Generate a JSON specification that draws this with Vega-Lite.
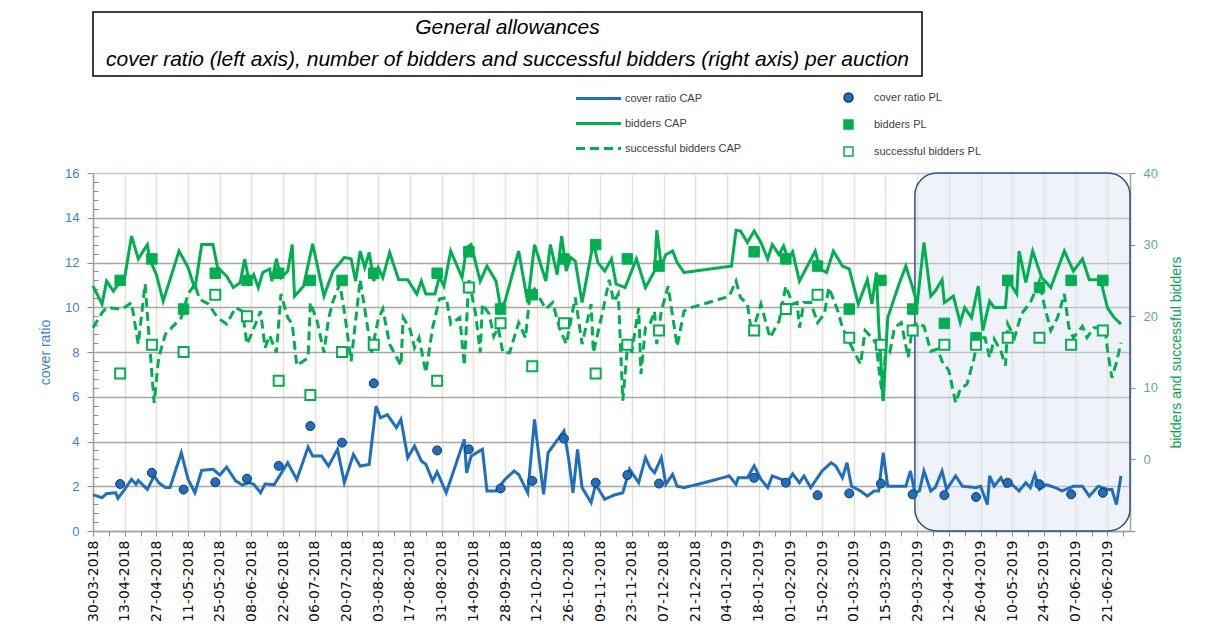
{
"$schema": "https://vega.github.io/schema/vega-lite/v6.json",
"background": "white",
"padding": {"left": 38, "top": 11, "right": 5, "bottom": 5},
"config": {"view": {"stroke": null}, "font": "Liberation Sans", "axis": {"titleFontWeight": "normal"}},
"datasets": {
"cr": [
{"d":"2018-03-30","v":1.62},{"d":"2018-04-03","v":1.49},{"d":"2018-04-05","v":1.67},{"d":"2018-04-09","v":1.71},{"d":"2018-04-10","v":1.46},{"d":"2018-04-13","v":1.86},{"d":"2018-04-16","v":2.31},{"d":"2018-04-18","v":2.09},{"d":"2018-04-19","v":2.26},{"d":"2018-04-23","v":1.86},{"d":"2018-04-26","v":2.46},{"d":"2018-04-28","v":2.16},{"d":"2018-05-01","v":1.94},{"d":"2018-05-03","v":1.94},{"d":"2018-05-08","v":3.5},{"d":"2018-05-11","v":2.31},{"d":"2018-05-14","v":1.71},{"d":"2018-05-17","v":2.71},{"d":"2018-05-22","v":2.76},{"d":"2018-05-25","v":2.5},{"d":"2018-05-28","v":2.86},{"d":"2018-06-01","v":2.24},{"d":"2018-06-04","v":2.06},{"d":"2018-06-07","v":2.16},{"d":"2018-06-09","v":2.09},{"d":"2018-06-12","v":1.71},{"d":"2018-06-14","v":2.1},{"d":"2018-06-18","v":2.07},{"d":"2018-06-24","v":3.05},{"d":"2018-06-28","v":2.3},{"d":"2018-07-03","v":3.75},{"d":"2018-07-05","v":3.35},{"d":"2018-07-09","v":3.35},{"d":"2018-07-12","v":2.9},{"d":"2018-07-16","v":3.65},{"d":"2018-07-19","v":2.16},{"d":"2018-07-23","v":3.42},{"d":"2018-07-26","v":2.9},{"d":"2018-07-30","v":2.98},{"d":"2018-08-02","v":5.58},{"d":"2018-08-04","v":5.06},{"d":"2018-08-07","v":5.2},{"d":"2018-08-11","v":4.62},{"d":"2018-08-13","v":4.99},{"d":"2018-08-16","v":3.28},{"d":"2018-08-19","v":3.8},{"d":"2018-08-22","v":3.13},{"d":"2018-08-24","v":2.98},{"d":"2018-08-27","v":2.24},{"d":"2018-08-29","v":2.64},{"d":"2018-09-02","v":1.71},{"d":"2018-09-10","v":4.1},{"d":"2018-09-11","v":2.6},{"d":"2018-09-13","v":3.35},{"d":"2018-09-18","v":3.65},{"d":"2018-09-20","v":1.79},{"d":"2018-09-24","v":1.79},{"d":"2018-09-28","v":2.31},{"d":"2018-10-02","v":2.68},{"d":"2018-10-04","v":2.53},{"d":"2018-10-08","v":1.71},{"d":"2018-10-11","v":4.99},{"d":"2018-10-13","v":3.28},{"d":"2018-10-15","v":1.64},{"d":"2018-10-17","v":3.5},{"d":"2018-10-24","v":4.47},{"d":"2018-10-26","v":3.28},{"d":"2018-10-28","v":1.71},{"d":"2018-10-30","v":3.65},{"d":"2018-11-01","v":1.94},{"d":"2018-11-05","v":1.27},{"d":"2018-11-07","v":2.09},{"d":"2018-11-11","v":1.42},{"d":"2018-11-15","v":1.6},{"d":"2018-11-19","v":1.71},{"d":"2018-11-22","v":2.76},{"d":"2018-11-26","v":2.16},{"d":"2018-11-29","v":3.28},{"d":"2018-12-01","v":2.83},{"d":"2018-12-03","v":2.6},{"d":"2018-12-06","v":3.28},{"d":"2018-12-08","v":2.09},{"d":"2018-12-11","v":2.53},{"d":"2018-12-13","v":2.0},{"d":"2018-12-16","v":1.94},{"d":"2018-12-25","v":2.16},{"d":"2019-01-05","v":2.46},{"d":"2019-01-08","v":2.09},{"d":"2019-01-09","v":2.38},{"d":"2019-01-13","v":2.38},{"d":"2019-01-16","v":2.91},{"d":"2019-01-19","v":2.31},{"d":"2019-01-22","v":1.94},{"d":"2019-01-24","v":2.46},{"d":"2019-01-28","v":2.31},{"d":"2019-01-31","v":2.24},{"d":"2019-02-02","v":2.55},{"d":"2019-02-05","v":2.16},{"d":"2019-02-07","v":2.46},{"d":"2019-02-10","v":1.94},{"d":"2019-02-15","v":2.68},{"d":"2019-02-19","v":3.05},{"d":"2019-02-21","v":2.91},{"d":"2019-02-24","v":2.38},{"d":"2019-02-26","v":3.05},{"d":"2019-02-28","v":2.0},{"d":"2019-03-04","v":1.79},{"d":"2019-03-07","v":1.56},{"d":"2019-03-10","v":1.79},{"d":"2019-03-12","v":1.79},{"d":"2019-03-14","v":3.5},{"d":"2019-03-16","v":2.0},{"d":"2019-03-20","v":2.0},{"d":"2019-03-24","v":2.0},{"d":"2019-03-26","v":2.68},{"d":"2019-03-28","v":1.71},{"d":"2019-03-30","v":1.79},{"d":"2019-04-01","v":2.68},{"d":"2019-04-04","v":1.79},{"d":"2019-04-06","v":1.94},{"d":"2019-04-09","v":2.68},{"d":"2019-04-11","v":1.86},{"d":"2019-04-15","v":2.46},{"d":"2019-04-18","v":2.0},{"d":"2019-04-24","v":1.94},{"d":"2019-04-26","v":2.0},{"d":"2019-04-29","v":1.18},{"d":"2019-04-30","v":2.46},{"d":"2019-05-02","v":2.0},{"d":"2019-05-05","v":2.38},{"d":"2019-05-07","v":2.0},{"d":"2019-05-10","v":2.07},{"d":"2019-05-13","v":1.79},{"d":"2019-05-16","v":2.16},{"d":"2019-05-18","v":1.94},{"d":"2019-05-20","v":2.53},{"d":"2019-05-22","v":1.86},{"d":"2019-05-25","v":2.07},{"d":"2019-05-29","v":1.94},{"d":"2019-06-01","v":1.79},{"d":"2019-06-06","v":2.0},{"d":"2019-06-10","v":2.0},{"d":"2019-06-13","v":1.56},{"d":"2019-06-17","v":2.0},{"d":"2019-06-21","v":1.86},{"d":"2019-06-23","v":1.86},{"d":"2019-06-25","v":1.18},{"d":"2019-06-27","v":2.46}
],
"b": [
{"d":"2018-03-30","v":24.2},{"d":"2018-04-03","v":21.7},{"d":"2018-04-05","v":24.9},{"d":"2018-04-08","v":23.5},{"d":"2018-04-11","v":24.9},{"d":"2018-04-13","v":25.4},{"d":"2018-04-16","v":31.2},{"d":"2018-04-19","v":28},{"d":"2018-04-23","v":30},{"d":"2018-04-24","v":28},{"d":"2018-04-27","v":25.8},{"d":"2018-04-30","v":22.1},{"d":"2018-05-07","v":29.1},{"d":"2018-05-11","v":26.8},{"d":"2018-05-14","v":23.8},{"d":"2018-05-17","v":30},{"d":"2018-05-22","v":30},{"d":"2018-05-24","v":26.8},{"d":"2018-05-28","v":25.6},{"d":"2018-05-31","v":24},{"d":"2018-06-03","v":24.7},{"d":"2018-06-05","v":28},{"d":"2018-06-07","v":24.7},{"d":"2018-06-09","v":25.8},{"d":"2018-06-11","v":24},{"d":"2018-06-13","v":26.1},{"d":"2018-06-16","v":26.6},{"d":"2018-06-17","v":24.9},{"d":"2018-06-19","v":28},{"d":"2018-06-21","v":25.4},{"d":"2018-06-24","v":26.3},{"d":"2018-06-26","v":30},{"d":"2018-06-27","v":22.8},{"d":"2018-07-01","v":24.2},{"d":"2018-07-05","v":30.1},{"d":"2018-07-10","v":22.8},{"d":"2018-07-14","v":26.3},{"d":"2018-07-19","v":28.2},{"d":"2018-07-22","v":28},{"d":"2018-07-24","v":24.9},{"d":"2018-07-26","v":29.1},{"d":"2018-07-28","v":26.8},{"d":"2018-07-30","v":28.9},{"d":"2018-08-01","v":24.9},{"d":"2018-08-03","v":26.8},{"d":"2018-08-05","v":25.4},{"d":"2018-08-08","v":28.9},{"d":"2018-08-12","v":25.1},{"d":"2018-08-16","v":25.1},{"d":"2018-08-20","v":23.1},{"d":"2018-08-22","v":24.9},{"d":"2018-08-24","v":23.1},{"d":"2018-08-28","v":23.1},{"d":"2018-08-30","v":25.5},{"d":"2018-09-01","v":24.2},{"d":"2018-09-04","v":29.1},{"d":"2018-09-09","v":25.4},{"d":"2018-09-11","v":29.6},{"d":"2018-09-13","v":30},{"d":"2018-09-17","v":24.9},{"d":"2018-09-20","v":27},{"d":"2018-09-24","v":24.9},{"d":"2018-09-26","v":21.2},{"d":"2018-09-28","v":22.1},{"d":"2018-10-04","v":29.1},{"d":"2018-10-08","v":21.9},{"d":"2018-10-11","v":30},{"d":"2018-10-16","v":24.9},{"d":"2018-10-18","v":30},{"d":"2018-10-21","v":25.8},{"d":"2018-10-23","v":31.2},{"d":"2018-10-25","v":26.3},{"d":"2018-10-27","v":28.2},{"d":"2018-10-29","v":27.7},{"d":"2018-11-01","v":21.9},{"d":"2018-11-06","v":30.3},{"d":"2018-11-08","v":27.5},{"d":"2018-11-11","v":26.3},{"d":"2018-11-14","v":28},{"d":"2018-11-16","v":24.5},{"d":"2018-11-20","v":24},{"d":"2018-11-25","v":28},{"d":"2018-11-29","v":24},{"d":"2018-12-03","v":26.3},{"d":"2018-12-04","v":32},{"d":"2018-12-06","v":27},{"d":"2018-12-08","v":28.6},{"d":"2018-12-11","v":29.1},{"d":"2018-12-13","v":27.5},{"d":"2018-12-16","v":26.1},{"d":"2019-01-06","v":27},{"d":"2019-01-08","v":32},{"d":"2019-01-10","v":31.9},{"d":"2019-01-13","v":30.3},{"d":"2019-01-16","v":31.9},{"d":"2019-01-19","v":30.3},{"d":"2019-01-22","v":28},{"d":"2019-01-24","v":30},{"d":"2019-01-27","v":28.6},{"d":"2019-01-29","v":29.8},{"d":"2019-01-31","v":28},{"d":"2019-02-02","v":29},{"d":"2019-02-05","v":24.9},{"d":"2019-02-12","v":29.1},{"d":"2019-02-14","v":26.6},{"d":"2019-02-17","v":26.1},{"d":"2019-02-20","v":29.1},{"d":"2019-02-24","v":27},{"d":"2019-02-27","v":26.6},{"d":"2019-03-03","v":21.7},{"d":"2019-03-07","v":25.1},{"d":"2019-03-09","v":21.7},{"d":"2019-03-11","v":26.1},{"d":"2019-03-12","v":18.9},{"d":"2019-03-14","v":8.2},{"d":"2019-03-16","v":19.8},{"d":"2019-03-21","v":24.5},{"d":"2019-03-24","v":27},{"d":"2019-03-27","v":24},{"d":"2019-03-29","v":21.7},{"d":"2019-04-01","v":30.3},{"d":"2019-04-04","v":22.8},{"d":"2019-04-06","v":23.5},{"d":"2019-04-09","v":25.1},{"d":"2019-04-10","v":21.9},{"d":"2019-04-14","v":22.8},{"d":"2019-04-17","v":19.1},{"d":"2019-04-19","v":21.2},{"d":"2019-04-22","v":19.8},{"d":"2019-04-25","v":24.2},{"d":"2019-04-27","v":18},{"d":"2019-04-30","v":22.1},{"d":"2019-05-02","v":21.2},{"d":"2019-05-07","v":21.2},{"d":"2019-05-08","v":25.1},{"d":"2019-05-12","v":23.1},{"d":"2019-05-13","v":29.1},{"d":"2019-05-16","v":24.7},{"d":"2019-05-19","v":29.1},{"d":"2019-05-23","v":25.4},{"d":"2019-05-27","v":24},{"d":"2019-06-02","v":29.1},{"d":"2019-06-06","v":26.3},{"d":"2019-06-10","v":28},{"d":"2019-06-13","v":25.1},{"d":"2019-06-18","v":25.1},{"d":"2019-06-21","v":21.2},{"d":"2019-06-24","v":19.8},{"d":"2019-06-27","v":18.9}
],
"sb": [
{"d":"2018-03-30","v":18.4},{"d":"2018-04-03","v":20.5},{"d":"2018-04-05","v":21.2},{"d":"2018-04-12","v":21},{"d":"2018-04-16","v":21.9},{"d":"2018-04-19","v":16.1},{"d":"2018-04-22","v":24.5},{"d":"2018-04-24","v":16.1},{"d":"2018-04-26","v":7.9},{"d":"2018-04-28","v":14.2},{"d":"2018-05-01","v":17.5},{"d":"2018-05-08","v":19.8},{"d":"2018-05-11","v":23.1},{"d":"2018-05-14","v":24.5},{"d":"2018-05-16","v":22.4},{"d":"2018-05-20","v":21.7},{"d":"2018-05-24","v":19.8},{"d":"2018-05-28","v":18.9},{"d":"2018-06-01","v":21.2},{"d":"2018-06-04","v":20.7},{"d":"2018-06-06","v":16.1},{"d":"2018-06-08","v":17.5},{"d":"2018-06-12","v":20.7},{"d":"2018-06-14","v":15.6},{"d":"2018-06-16","v":17.3},{"d":"2018-06-19","v":14.9},{"d":"2018-06-21","v":23.1},{"d":"2018-06-24","v":19.8},{"d":"2018-06-26","v":18.9},{"d":"2018-06-28","v":13.1},{"d":"2018-07-03","v":14.2},{"d":"2018-07-04","v":21.9},{"d":"2018-07-07","v":19.3},{"d":"2018-07-10","v":14.9},{"d":"2018-07-12","v":19.6},{"d":"2018-07-14","v":22.1},{"d":"2018-07-17","v":24.5},{"d":"2018-07-19","v":20.7},{"d":"2018-07-22","v":13.7},{"d":"2018-07-26","v":25.1},{"d":"2018-07-30","v":17},{"d":"2018-07-31","v":14.9},{"d":"2018-08-03","v":19.6},{"d":"2018-08-05","v":21},{"d":"2018-08-08","v":16.1},{"d":"2018-08-13","v":13.1},{"d":"2018-08-14","v":19.8},{"d":"2018-08-17","v":18.2},{"d":"2018-08-19","v":15.6},{"d":"2018-08-21","v":17},{"d":"2018-08-24","v":12.1},{"d":"2018-08-27","v":18.4},{"d":"2018-08-30","v":22.4},{"d":"2018-09-02","v":22.6},{"d":"2018-09-04","v":18.9},{"d":"2018-09-08","v":19.8},{"d":"2018-09-10","v":13.1},{"d":"2018-09-12","v":25.1},{"d":"2018-09-15","v":20.3},{"d":"2018-09-17","v":14.9},{"d":"2018-09-18","v":21.7},{"d":"2018-09-21","v":20.3},{"d":"2018-09-23","v":17.2},{"d":"2018-09-25","v":18.4},{"d":"2018-09-27","v":14.9},{"d":"2018-09-30","v":14.9},{"d":"2018-10-04","v":19.1},{"d":"2018-10-07","v":17},{"d":"2018-10-09","v":23.1},{"d":"2018-10-11","v":23.8},{"d":"2018-10-16","v":21},{"d":"2018-10-19","v":21.9},{"d":"2018-10-22","v":18.4},{"d":"2018-10-25","v":16.1},{"d":"2018-10-29","v":22.6},{"d":"2018-11-01","v":16.1},{"d":"2018-11-05","v":21.7},{"d":"2018-11-06","v":14.9},{"d":"2018-11-10","v":20.5},{"d":"2018-11-13","v":25.1},{"d":"2018-11-15","v":22},{"d":"2018-11-17","v":23.1},{"d":"2018-11-19","v":8.2},{"d":"2018-11-21","v":15.6},{"d":"2018-11-23","v":15.1},{"d":"2018-11-26","v":21.2},{"d":"2018-11-27","v":11.9},{"d":"2018-11-29","v":18.4},{"d":"2018-12-01","v":18.9},{"d":"2018-12-03","v":20.7},{"d":"2018-12-04","v":16.1},{"d":"2018-12-06","v":20.7},{"d":"2018-12-09","v":24.2},{"d":"2018-12-13","v":15.8},{"d":"2018-12-16","v":20.7},{"d":"2018-12-19","v":21.2},{"d":"2018-12-29","v":22.1},{"d":"2019-01-05","v":22.8},{"d":"2019-01-08","v":24.9},{"d":"2019-01-10","v":22.6},{"d":"2019-01-13","v":21.7},{"d":"2019-01-15","v":17.5},{"d":"2019-01-19","v":21.7},{"d":"2019-01-23","v":17},{"d":"2019-01-27","v":19.3},{"d":"2019-01-30","v":24.2},{"d":"2019-02-02","v":21.7},{"d":"2019-02-04","v":21.9},{"d":"2019-02-05","v":18.4},{"d":"2019-02-07","v":21.9},{"d":"2019-02-10","v":21.9},{"d":"2019-02-13","v":19.1},{"d":"2019-02-16","v":20.3},{"d":"2019-02-18","v":24},{"d":"2019-02-22","v":20.7},{"d":"2019-02-24","v":18.4},{"d":"2019-03-01","v":15.1},{"d":"2019-03-04","v":13.3},{"d":"2019-03-06","v":18},{"d":"2019-03-09","v":17},{"d":"2019-03-11","v":16.1},{"d":"2019-03-12","v":12.8},{"d":"2019-03-14","v":8.2},{"d":"2019-03-15","v":16.1},{"d":"2019-03-17","v":15.1},{"d":"2019-03-19","v":18.4},{"d":"2019-03-22","v":19.1},{"d":"2019-03-25","v":14.2},{"d":"2019-03-27","v":18.6},{"d":"2019-03-29","v":19.1},{"d":"2019-04-01","v":18.6},{"d":"2019-04-04","v":15.1},{"d":"2019-04-07","v":15.4},{"d":"2019-04-09","v":13.7},{"d":"2019-04-12","v":12.4},{"d":"2019-04-15","v":7.9},{"d":"2019-04-17","v":9.8},{"d":"2019-04-20","v":10.5},{"d":"2019-04-23","v":14},{"d":"2019-04-25","v":17},{"d":"2019-04-28","v":17},{"d":"2019-04-30","v":14.2},{"d":"2019-05-02","v":16.8},{"d":"2019-05-05","v":15.1},{"d":"2019-05-07","v":13.1},{"d":"2019-05-08","v":18.9},{"d":"2019-05-11","v":17},{"d":"2019-05-14","v":20.3},{"d":"2019-05-18","v":21.9},{"d":"2019-05-22","v":24.9},{"d":"2019-05-24","v":21.7},{"d":"2019-05-27","v":18},{"d":"2019-05-30","v":19.8},{"d":"2019-06-02","v":23.1},{"d":"2019-06-04","v":18.4},{"d":"2019-06-06","v":17},{"d":"2019-06-10","v":18.6},{"d":"2019-06-12","v":17},{"d":"2019-06-15","v":18.4},{"d":"2019-06-20","v":18.4},{"d":"2019-06-21","v":15.4},{"d":"2019-06-23","v":11.4},{"d":"2019-06-25","v":13.5},{"d":"2019-06-27","v":16.3}
],
"pl": [
{"d":"2018-04-11","cr":2.1,"b":25,"sb":12},{"d":"2018-04-25","cr":2.6,"b":28,"sb":16},{"d":"2018-05-09","cr":1.85,"b":21,"sb":15},{"d":"2018-05-23","cr":2.18,"b":26,"sb":23},{"d":"2018-06-06","cr":2.34,"b":25,"sb":20},{"d":"2018-06-20","cr":2.91,"b":26,"sb":11},{"d":"2018-07-04","cr":4.69,"b":25,"sb":9},{"d":"2018-07-18","cr":3.95,"b":25,"sb":15},{"d":"2018-08-01","cr":6.6,"b":26,"sb":16},{"d":"2018-08-29","cr":3.6,"b":26,"sb":11},{"d":"2018-09-12","cr":3.65,"b":29,"sb":24},{"d":"2018-09-26","cr":1.9,"b":21,"sb":19},{"d":"2018-10-10","cr":2.24,"b":23,"sb":13},{"d":"2018-10-24","cr":4.13,"b":28,"sb":19},{"d":"2018-11-07","cr":2.16,"b":30,"sb":12},{"d":"2018-11-21","cr":2.5,"b":28,"sb":16},{"d":"2018-12-05","cr":2.12,"b":27,"sb":18},{"d":"2019-01-16","cr":2.38,"b":29,"sb":18},{"d":"2019-01-30","cr":2.16,"b":28,"sb":21},{"d":"2019-02-13","cr":1.6,"b":27,"sb":23},{"d":"2019-02-27","cr":1.68,"b":21,"sb":17},{"d":"2019-03-13","cr":2.12,"b":25,"sb":16},{"d":"2019-03-27","cr":1.64,"b":21,"sb":18},{"d":"2019-04-10","cr":1.6,"b":19,"sb":16},{"d":"2019-04-24","cr":1.52,"b":17,"sb":16},{"d":"2019-05-08","cr":2.16,"b":25,"sb":17},{"d":"2019-05-22","cr":2.09,"b":24,"sb":17},{"d":"2019-06-05","cr":1.64,"b":25,"sb":16},{"d":"2019-06-19","cr":1.71,"b":25,"sb":18}
]
},
"bounds": "flush",
"spacing": 97,
"vconcat": [
{
"width": 829, "height": 64,
"view": {"stroke": "#000000", "strokeWidth": 1.5},
"data": {"values": [{"line": 1, "text": "General allowances"}, {"line": 2, "text": "cover ratio (left axis), number of bidders and successful bidders (right axis) per auction"}]},
"mark": {"type": "text", "fontStyle": "italic", "fontSize": 21, "font": "Liberation Sans", "color": "#000000"},
"encoding": {
"y": {"field": "line", "type": "ordinal", "axis": null, "scale": {"type": "point", "padding": 0.5}},
"text": {"field": "text", "type": "nominal"}
}
},
{
"width": 1037, "height": 358,
"encoding": {
"x": {"field": "d", "type": "temporal", "title": null,
"scale": {"type": "utc", "domain": [1522368000000, 1561939200000]},
"axis": {
"values": [1522368000000,1522972800000,1523577600000,1524182400000,1524787200000,1525392000000,1525996800000,1526601600000,1527206400000,1527811200000,1528416000000,1529020800000,1529625600000,1530230400000,1530835200000,1531440000000,1532044800000,1532649600000,1533254400000,1533859200000,1534464000000,1535068800000,1535673600000,1536278400000,1536883200000,1537488000000,1538092800000,1538697600000,1539302400000,1539907200000,1540512000000,1541116800000,1541721600000,1542326400000,1542931200000,1543536000000,1544140800000,1544745600000,1545350400000,1545955200000,1546560000000,1547164800000,1547769600000,1548374400000,1548979200000,1549584000000,1550188800000,1550793600000,1551398400000,1552003200000,1552608000000,1553212800000,1553817600000,1554422400000,1555027200000,1555632000000,1556236800000,1556841600000,1557446400000,1558051200000,1558656000000,1559260800000,1559865600000,1560470400000,1561075200000,1561680000000],
"format": "%d-%m-%Y",
"labelAngle": 270,
"labelExpr": "(round(datum.value/86400000) - 17620) % 14 == 0 ? datum.label : ''",
"labelFont": "DejaVu Sans", "labelFontSize": 14, "labelColor": "#111111", "labelPadding": 4,
"labelOverlap": false, "labelBound": false, "labelFlush": false,
"tickColor": "#8c8c8c", "tickSize": 5,
"domainColor": "#a0a0a0", "domainWidth": 1.5,
"grid": true, "gridColor": "#e6e2d3", "gridWidth": 1.5,
"gridOpacity": {"condition": {"test": "(round(datum.value/86400000) - 17620) % 14 == 0", "value": 1}, "value": 0}
}
}
},
"layer": [
{
"data": {"values": [{"d": "2019-03-28", "e": "2019-07-01"}]},
"mark": {"type": "rect", "cornerRadius": 22, "fill": "#dbe5f2", "fillOpacity": 0.45, "stroke": "#2f5286", "strokeWidth": 1.5},
"encoding": {"x2": {"field": "e"}}
},
{
"layer": [
{
"data": {"name": "cr"},
"mark": {"type": "line", "strokeWidth": 3},
"encoding": {
"y": {"field": "v", "type": "quantitative", "title": "cover ratio",
"scale": {"domain": [0, 16], "nice": false, "zero": false},
"axis": {"orient": "left", "values": [0,2,4,6,8,10,12,14,16], "titleColor": "#3a7fd5", "titleFontSize": 14, "titlePadding": 12, "labelColor": "#3a7fd5", "labelFontSize": 13, "labelPadding": 8, "tickSize": 6, "tickColor": "#8c8c8c", "domainColor": "#a0a0a0", "domainWidth": 1.5, "grid": true, "gridColor": {"condition": {"test": "datum.value == 16", "value": "#b4c7e7"}, "value": "#a6a6a6"}, "gridWidth": 1.5}},
"color": {"datum": "cover ratio CAP", "type": "nominal",
"scale": {"domain": ["cover ratio CAP", "bidders CAP", "successful bidders CAP"], "range": ["#1f6fc0", "#00b050", "#00b050"]},
"legend": {"title": null, "orient": "none", "legendX": 499, "legendY": 80, "direction": "vertical", "symbolType": "M-4.5,0H4.5", "symbolSize": 100, "symbolStrokeWidth": 3, "labelFontSize": 11, "labelColor": "#404040", "labelOffset": 20, "rowPadding": 12}},
"strokeDash": {"datum": "cover ratio CAP", "type": "nominal",
"scale": {"domain": ["cover ratio CAP", "bidders CAP", "successful bidders CAP"], "range": [[1, 0], [1, 0], [9, 5]]},
"legend": {"title": null, "orient": "none", "legendX": 499, "legendY": 80, "direction": "vertical", "symbolType": "M-4.5,0H4.5", "symbolSize": 100, "symbolStrokeWidth": 3, "labelFontSize": 11, "labelColor": "#404040", "labelOffset": 20, "rowPadding": 12}}
}
},
{
"data": {"name": "pl"},
"mark": {"type": "point", "size": 80, "strokeWidth": 1, "opacity": 1},
"encoding": {
"y": {"field": "cr", "type": "quantitative", "title": null,
"axis": {"orient": "left", "values": [0.4,0.8,1.2,1.6,2.4,2.8,3.2,3.6,4.4,4.8,5.2,5.6,6.4,6.8,7.2,7.6,8.4,8.8,9.2,9.6,10.4,10.8,11.2,11.6,12.4,12.8,13.2,13.6,14.4,14.8,15.2,15.6], "labels": false, "domain": false, "grid": false, "ticks": true, "tickSize": -5, "tickColor": "#8c8c8c", "title": null}},
"fill": {"datum": "cover ratio PL", "type": "nominal",
"scale": {"domain": ["cover ratio PL", "bidders PL", "successful bidders PL"], "range": ["#1f6fc0", "#00b050", "#ffffff"]},
"legend": {"title": null, "orient": "none", "legendX": 750, "legendY": 80, "direction": "vertical", "symbolSize": 80, "symbolStrokeWidth": 1.5, "labelFontSize": 11, "labelColor": "#404040", "labelOffset": 20, "rowPadding": 12}},
"stroke": {"datum": "cover ratio PL", "type": "nominal",
"scale": {"domain": ["cover ratio PL", "bidders PL", "successful bidders PL"], "range": ["#10365e", "#00b050", "#00b050"]}},
"shape": {"datum": "cover ratio PL", "type": "nominal",
"scale": {"domain": ["cover ratio PL", "bidders PL", "successful bidders PL"], "range": ["circle", "square", "square"]}}
}
}
],
"resolve": {"axis": {"y": "independent"}}
},
{
"layer": [
{
"data": {"name": "b"},
"mark": {"type": "line", "strokeWidth": 3},
"encoding": {
"y": {"field": "v", "type": "quantitative", "title": "bidders and successful bidders",
"scale": {"domain": [-10, 40], "nice": false, "zero": false},
"axis": {"orient": "right", "values": [-10,-5,0,5,10,15,20,25,30,35,40], "labelExpr": "datum.value >= 0 ? datum.label : ''", "titleAngle": 270, "titleBaseline": "top", "titleColor": "#00a651", "titleFontSize": 14, "titlePadding": 12, "labelColor": "#5fae82", "labelFontSize": 13, "labelPadding": 8, "tickSize": 5, "tickColor": "#8c8c8c", "domainColor": "#a0a0a0", "domainWidth": 1.5, "grid": false}},
"color": {"datum": "bidders CAP", "type": "nominal"},
"strokeDash": {"datum": "bidders CAP", "type": "nominal"}
}
},
{
"data": {"name": "sb"},
"mark": {"type": "line", "strokeWidth": 3},
"encoding": {
"y": {"field": "v", "type": "quantitative", "title": "bidders and successful bidders"},
"color": {"datum": "successful bidders CAP", "type": "nominal"},
"strokeDash": {"datum": "successful bidders CAP", "type": "nominal"}
}
},
{
"data": {"name": "pl"},
"mark": {"type": "point", "size": 110, "strokeWidth": 1, "opacity": 1},
"encoding": {
"y": {"field": "b", "type": "quantitative", "title": "bidders and successful bidders"},
"fill": {"datum": "bidders PL", "type": "nominal"},
"stroke": {"datum": "bidders PL", "type": "nominal"},
"shape": {"datum": "bidders PL", "type": "nominal"}
}
},
{
"data": {"name": "pl"},
"mark": {"type": "point", "size": 100, "strokeWidth": 2, "opacity": 1},
"encoding": {
"y": {"field": "sb", "type": "quantitative", "title": "bidders and successful bidders"},
"fill": {"datum": "successful bidders PL", "type": "nominal"},
"stroke": {"datum": "successful bidders PL", "type": "nominal"},
"shape": {"datum": "successful bidders PL", "type": "nominal"}
}
}
]
}
],
"resolve": {"scale": {"y": "independent"}}
}
]
}
